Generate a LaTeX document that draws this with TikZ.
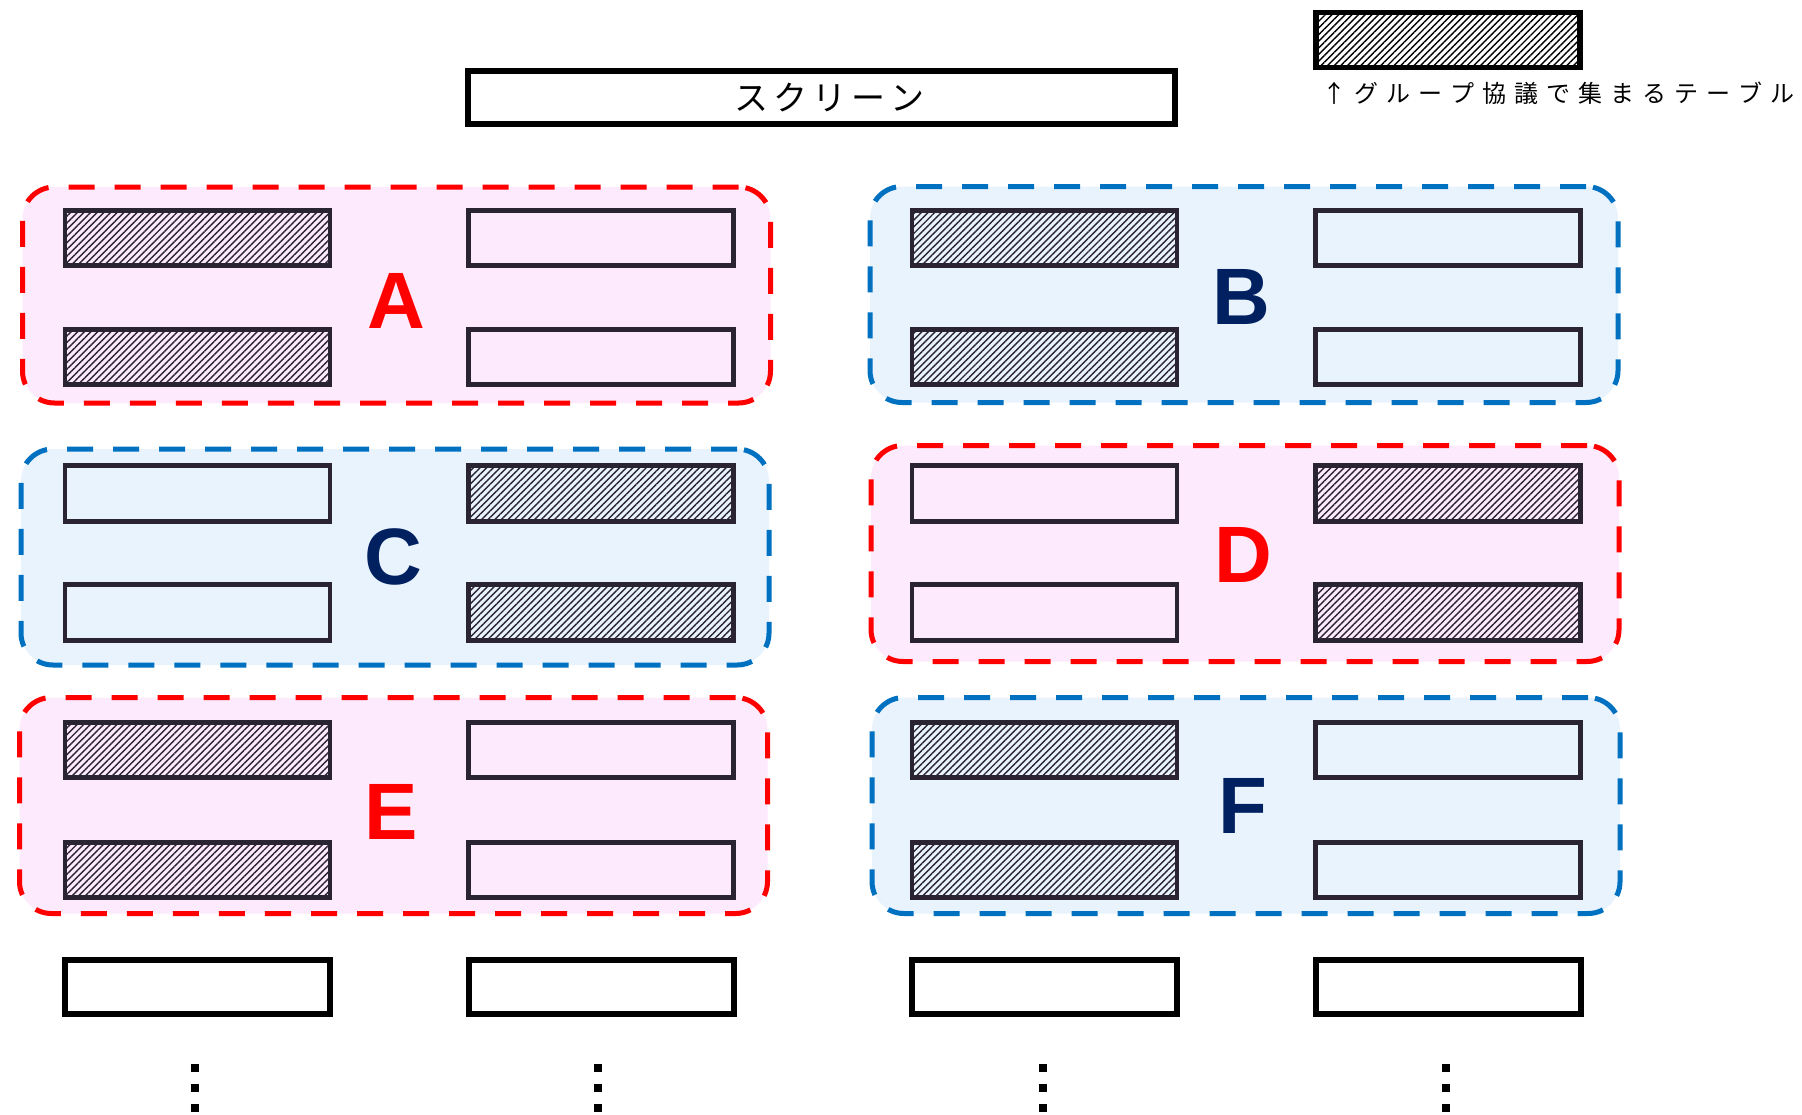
\documentclass[tikz,border=0pt]{standalone}
\usepackage{fontspec}
\setmainfont{Liberation Sans}
\newfontfamily\jpfont{Noto Sans CJK JP}
\usetikzlibrary{patterns.meta}
\definecolor{pinkbg}{RGB}{253,234,252}
\definecolor{bluebg}{RGB}{233,243,254}
\definecolor{redd}{RGB}{255,0,0}
\definecolor{blued}{RGB}{0,112,192}
\definecolor{navy}{RGB}{0,32,96}
\definecolor{tblc}{RGB}{42,36,50}
\tikzset{
  grp/.style={rectangle, rounded corners=16pt, line width=2.5pt, dash pattern=on 13pt off 10pt, inner sep=0pt, minimum width=374pt, minimum height=108pt},
  pgrp/.style={grp, draw=redd, fill=pinkbg},
  bgrp/.style={grp, draw=blued, fill=bluebg},
  tbl/.style={rectangle, draw=tblc, line width=2.4pt, minimum width=132.5pt, minimum height=27.8pt, inner sep=0pt},
  hat/.style={tbl, pattern={Lines[angle=45,distance=2.35pt,line width=0.7pt]}, pattern color=tblc},
  blk/.style={tbl, draw=black, line width=3pt, minimum height=27.2pt},
  lettr/.style={inner sep=0pt, font=\fontsize{40pt}{40pt}\selectfont\bfseries},
  dotn/.style={rectangle, fill=black, inner sep=0pt, minimum width=3.6pt, minimum height=4pt}
}
\begin{document}
\begin{tikzpicture}[x=0.5pt,y=-0.5pt]
\useasboundingbox (0,0) rectangle (1802,1114);

% legend
\node[hat, draw=black, line width=2.8pt, minimum width=132pt, minimum height=27.5pt, pattern color=black] (legend) at (1448,40) {};
\node[inner sep=0pt, font=\jpfont\fontsize{12pt}{12pt}\selectfont] (legendtext) at (1558,93)
  {↑\kern4ptグ\kern4ptル\kern4ptー\kern4ptプ\kern4pt協\kern4pt議\kern4ptで\kern4pt集\kern4ptま\kern4ptる\kern4ptテ\kern4ptー\kern4ptブ\kern4ptル};

% screen
\node[rectangle, draw=black, line width=2.8pt, minimum width=353.5pt, minimum height=26.5pt, inner sep=0pt,
      font=\jpfont\fontsize{17pt}{17pt}\selectfont] (screen) at (821.5,97.5)
  {\kern8ptス\kern2.5ptク\kern2.5ptリ\kern2.5ptー\kern2.5ptン};

% groups
\node[pgrp] (gA) at (396.5,295) {};
\node[bgrp] (gB) at (1244,294.5) {};
\node[bgrp] (gC) at (395,557) {};
\node[pgrp] (gD) at (1245,553.5) {};
\node[pgrp] (gE) at (393.5,805.5) {};
\node[bgrp] (gF) at (1246,805.5) {};

% group A
\node[hat] (a1) at (197.5,238) {};
\node[hat] (a2) at (197.5,357) {};
\node[tbl] (a3) at (601,238) {};
\node[tbl] (a4) at (601,357) {};
% group B
\node[hat] (b1) at (1044.5,238) {};
\node[hat] (b2) at (1044.5,357) {};
\node[tbl] (b3) at (1448,238) {};
\node[tbl] (b4) at (1448,357) {};
% group C
\node[tbl] (c1) at (197.5,493.5) {};
\node[tbl] (c2) at (197.5,612.5) {};
\node[hat] (c3) at (601,493.5) {};
\node[hat] (c4) at (601,612.5) {};
% group D
\node[tbl] (d1) at (1044.5,493.5) {};
\node[tbl] (d2) at (1044.5,612.5) {};
\node[hat] (d3) at (1448,493.5) {};
\node[hat] (d4) at (1448,612.5) {};
% group E
\node[hat] (e1) at (197.5,750) {};
\node[hat] (e2) at (197.5,870) {};
\node[tbl] (e3) at (601,750) {};
\node[tbl] (e4) at (601,870) {};
% group F
\node[hat] (f1) at (1044.5,750) {};
\node[hat] (f2) at (1044.5,870) {};
\node[tbl] (f3) at (1448,750) {};
\node[tbl] (f4) at (1448,870) {};

% bottom row
\node[blk] (z1) at (197.5,987) {};
\node[blk] (z2) at (601,987) {};
\node[blk] (z3) at (1044.5,987) {};
\node[blk] (z4) at (1448,987) {};

% letters
\node[lettr, text=redd] (lA) at (396,301) {A};
\node[lettr, text=navy] (lB) at (1241,297) {B};
\node[lettr, text=navy] (lC) at (393,557) {C};
\node[lettr, text=redd] (lD) at (1243,555) {D};
\node[lettr, text=redd] (lE) at (391,812) {E};
\node[lettr, text=navy] (lF) at (1243,806) {F};

% continuation dots
\foreach \x [count=\i] in {195,598,1043,1446}
  \foreach \y [count=\j] in {1068,1088,1108}
    \node[dotn] (dot\i\j) at (\x,\y) {};
\end{tikzpicture}
\end{document}
